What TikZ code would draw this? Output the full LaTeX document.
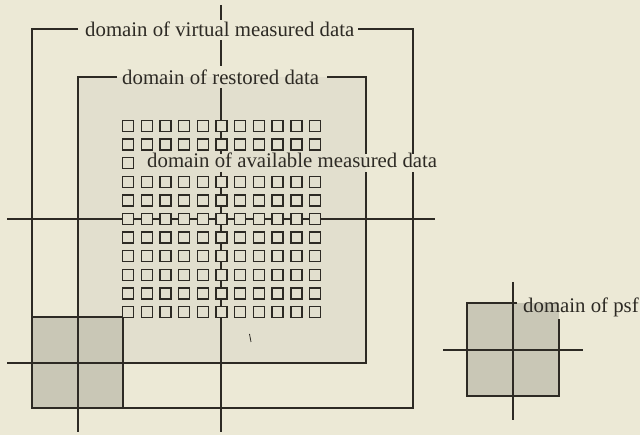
\documentclass[tikz,border=0pt]{standalone}
\usepackage{fontspec}
\setmainfont{Liberation Serif}
\definecolor{bg}{RGB}{236,233,214}
\definecolor{inner}{RGB}{226,223,206}
\definecolor{psfgray}{RGB}{201,199,182}
\definecolor{ink}{RGB}{45,42,36}
\tikzset{
  lbl/.style={inner sep=0pt, anchor=base west, text=ink, font=\fontsize{20.8}{24}\selectfont},
  edge/.style={draw=ink, line width=1.3pt},
  cell/.style={draw=ink, fill=inner, line width=1.4pt}
}
\begin{document}
\begin{tikzpicture}[x=1pt,y=-1pt]
\useasboundingbox[fill=bg] (0,0) rectangle (640,435);
% shaded areas
\fill[inner] (78,77) rectangle (366,363);
\fill[psfgray] (32,317) rectangle (123,408);
\fill[psfgray] (467,303) rectangle (559,396);
% virtual measured data domain
\draw[edge] (78,29) -- (32,29) -- (32,408) -- (413,408) -- (413,172);
\draw[edge] (413,154) -- (413,29) -- (358,29);
% restored data domain
\draw[edge] (117,77) -- (78,77) -- (78,432);
\draw[edge] (327,77) -- (366,77) -- (366,154);
\draw[edge] (366,172) -- (366,363) -- (7,363);
% psf at corner
\draw[edge] (32,317) -- (123,317) -- (123,408);
% axes
\draw[edge] (7,219) -- (435,219);
\draw[edge] (221,5) -- (221,20);
\draw[edge] (221,40) -- (221,66);
\draw[edge] (221,88) -- (221,154);
\draw[edge] (221,172) -- (221,432);
% grid of samples
\foreach \i in {0,...,10}{
  \foreach \j in {0,...,10}{
    \pgfmathtruncatemacro{\skip}{(\j==2)&&(\i>0)}
    \ifnum\skip=0
      \draw[cell] ({128+18.7*\i-5.5},{126+18.6*\j-5.5}) rectangle +(11,11);
    \fi
  }
}
% stray mark
\draw[ink, line width=0.8pt] (249.5,334) -- (251,342);
% right psf
\draw[edge] (517,303) -- (467,303) -- (467,396) -- (559,396) -- (559,319);
\draw[edge] (513,282) -- (513,420);
\draw[edge] (443,350) -- (583,350);
% labels
\node[lbl] (virt) at (85,37) {domain of virtual measured data};
\node[lbl] (rest) at (122,85) {domain of restored data};
\node[lbl] (avail) at (147,168) {domain of available measured data};
\node[lbl] (psf) at (523,313) {domain of psf};
\end{tikzpicture}
\end{document}
